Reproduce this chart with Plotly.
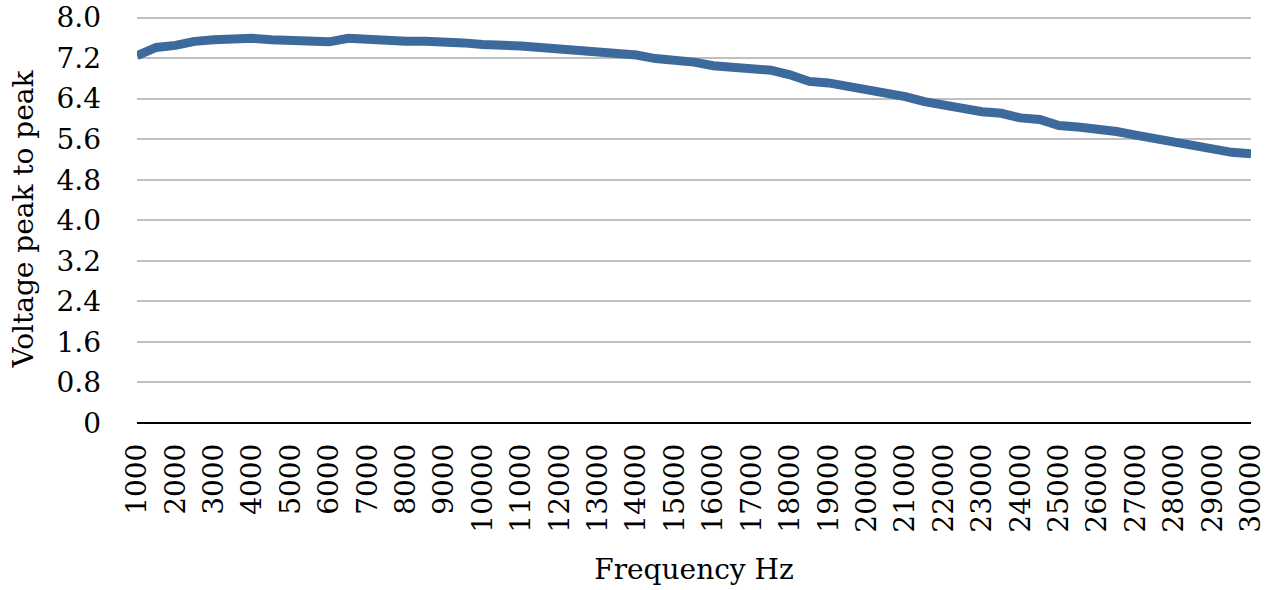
import plotly.graph_objects as go

freq = list(range(1000, 30001, 500))
vpp = [7.25, 7.41, 7.45, 7.53, 7.56, 7.59, 7.59, 7.56, 7.55, 7.55,
       7.52, 7.59, 7.56, 7.56, 7.53, 7.53, 7.53, 7.50, 7.47, 7.47,
       7.44, 7.41, 7.38, 7.36, 7.32, 7.26, 7.26, 7.19, 7.16, 7.12,
       7.05, 7.02, 6.96, 6.96, 6.87, 6.74, 6.71, 6.65, 6.58, 6.51,
       6.44, 6.34, 6.27, 6.20, 6.14, 6.11, 6.02, 5.99, 5.87, 5.84,
       5.81, 5.75, 5.68, 5.61, 5.54, 5.47, 5.40, 5.34, 5.31]
x_ticks = list(range(1000, 30001, 1000))
y_ticks = [0, 0.8, 1.6, 2.4, 3.2, 4.0, 4.8, 5.6, 6.4, 7.2, 8.0]
y_labels = ["0", "0.8", "1.6", "2.4", "3.2", "4.0", "4.8", "5.6", "6.4", "7.2", "8.0"]

FONT = "DejaVu Serif"

fig = go.Figure()
fig.add_trace(go.Scatter(x=freq, y=vpp, mode="lines",
                         line=dict(color="#3C6A9C", width=9),
                         hoverinfo="skip"))

fig.update_layout(
    width=1274, height=590,
    margin=dict(l=137, r=23, t=15, b=167),
    paper_bgcolor="white", plot_bgcolor="white",
    showlegend=False,
    font=dict(family=FONT, size=28, color="black"),
)
fig.update_xaxes(
    range=[1000, 30000], tickvals=x_ticks, ticktext=[str(v) for v in x_ticks],
    tickangle=-90, showgrid=False, zeroline=False, showline=False,
    ticklabelstandoff=14, automargin=False, ticklabeloverflow="allow",
    title=dict(text="Frequency Hz", font=dict(size=28), standoff=27),
)
fig.update_yaxes(
    range=[0, 8.05], tickvals=y_ticks, ticktext=y_labels,
    showgrid=True, gridcolor="#BFBFBF", gridwidth=2,
    zeroline=True, zerolinecolor="black", zerolinewidth=2,
    showline=False, ticklabelstandoff=35, automargin=False,
    ticklabeloverflow="allow",
    title=dict(text="Voltage peak to peak", font=dict(size=28), standoff=14),
)

fig.write_html("out.html", config={"displayModeBar": False},
               post_script="document.body.style.margin='0';")
